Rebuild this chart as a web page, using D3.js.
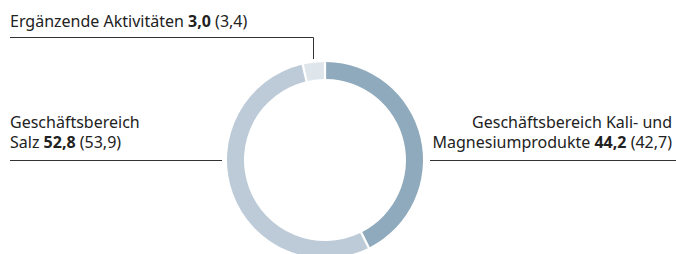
<!DOCTYPE html>
<html>
<head>
<meta charset="utf-8">
<script src="https://cdn.jsdelivr.net/npm/d3@7"></script>
<style>
  body { margin: 0; background: #fff; }
  svg { display: block; }
  text { font-family: "Noto Sans", sans-serif; font-size: 16px; fill: #222; }
  .b { font-weight: bold; }
</style>
</head>
<body>
<div id="chart"></div>
<script>
// Umsatzanteile in % (aktuelles Jahr, Vorjahr in Klammern)
var categories = ["Kali", "Salz", "Ergänzende"];
var valuesNow  = [44.2, 52.8, 3.0];
var valuesPrev = [42.7, 53.9, 3.4];
var labelLines = [
  ["Geschäftsbereich Kali- und", "Magnesiumprodukte "],
  ["Geschäftsbereich", "Salz "],
  ["Ergänzende Aktivitäten "]
];
var colors = ["#8eaabc", "#bccbd7", "#dee6eb"];

var width = 676, height = 254;
var cx = 325, cy = 160, rOuter = 98, rInner = 81;

var svg = d3.select('#chart').append('svg')
  .attr('width', width)
  .attr('height', height);

var fmt = function (v) { return d3.format('.1f')(v).replace('.', ','); };

// the ring in the picture follows the bracketed figures
var pie = d3.pie().sort(null).padAngle(0.018);
var arcs = pie(valuesPrev);
var arc = d3.arc().innerRadius(rInner).outerRadius(rOuter);

var g = svg.append('g').attr('transform', 'translate(' + cx + ',' + cy + ')');
g.selectAll('path')
  .data(arcs)
  .enter()
  .append('path')
  .attr('d', arc)
  .style('fill', function (d, i) { return colors[i]; });

// leader lines
var lines = svg.append('g').style('stroke', '#333').style('fill', 'none').style('stroke-width', 1);
lines.append('line').attr('x1', 430).attr('x2', 676).attr('y1', 160.5).attr('y2', 160.5);
lines.append('line').attr('x1', 10).attr('x2', 222).attr('y1', 160.5).attr('y2', 160.5);
var ergMid = (arcs[2].startAngle + arcs[2].endAngle) / 2;
var ergX = Math.round(cx + (rOuter + 4) * Math.sin(ergMid)) + 0.5;
lines.append('polyline')
  .attr('points', [[10, 37.5], [ergX, 37.5], [ergX, 59]].join(' '));

// labels
function label(i, x, y, anchor) {
  var t = svg.append('text').attr('x', x).attr('y', y).attr('text-anchor', anchor);
  var ls = labelLines[i];
  ls.forEach(function (l, k) {
    var ts = t.append('tspan').attr('x', x).attr('dy', k === 0 ? 0 : 20).text(l);
    if (k === ls.length - 1) {
      ts.append('tspan').attr('class', 'b').text(fmt(valuesNow[i]));
      ts.append('tspan').text(' (' + fmt(valuesPrev[i]) + ')');
    }
  });
}
label(0, 672, 128, 'end');
label(1, 10, 128, 'start');
label(2, 10, 27, 'start');
</script>
</body>
</html>
